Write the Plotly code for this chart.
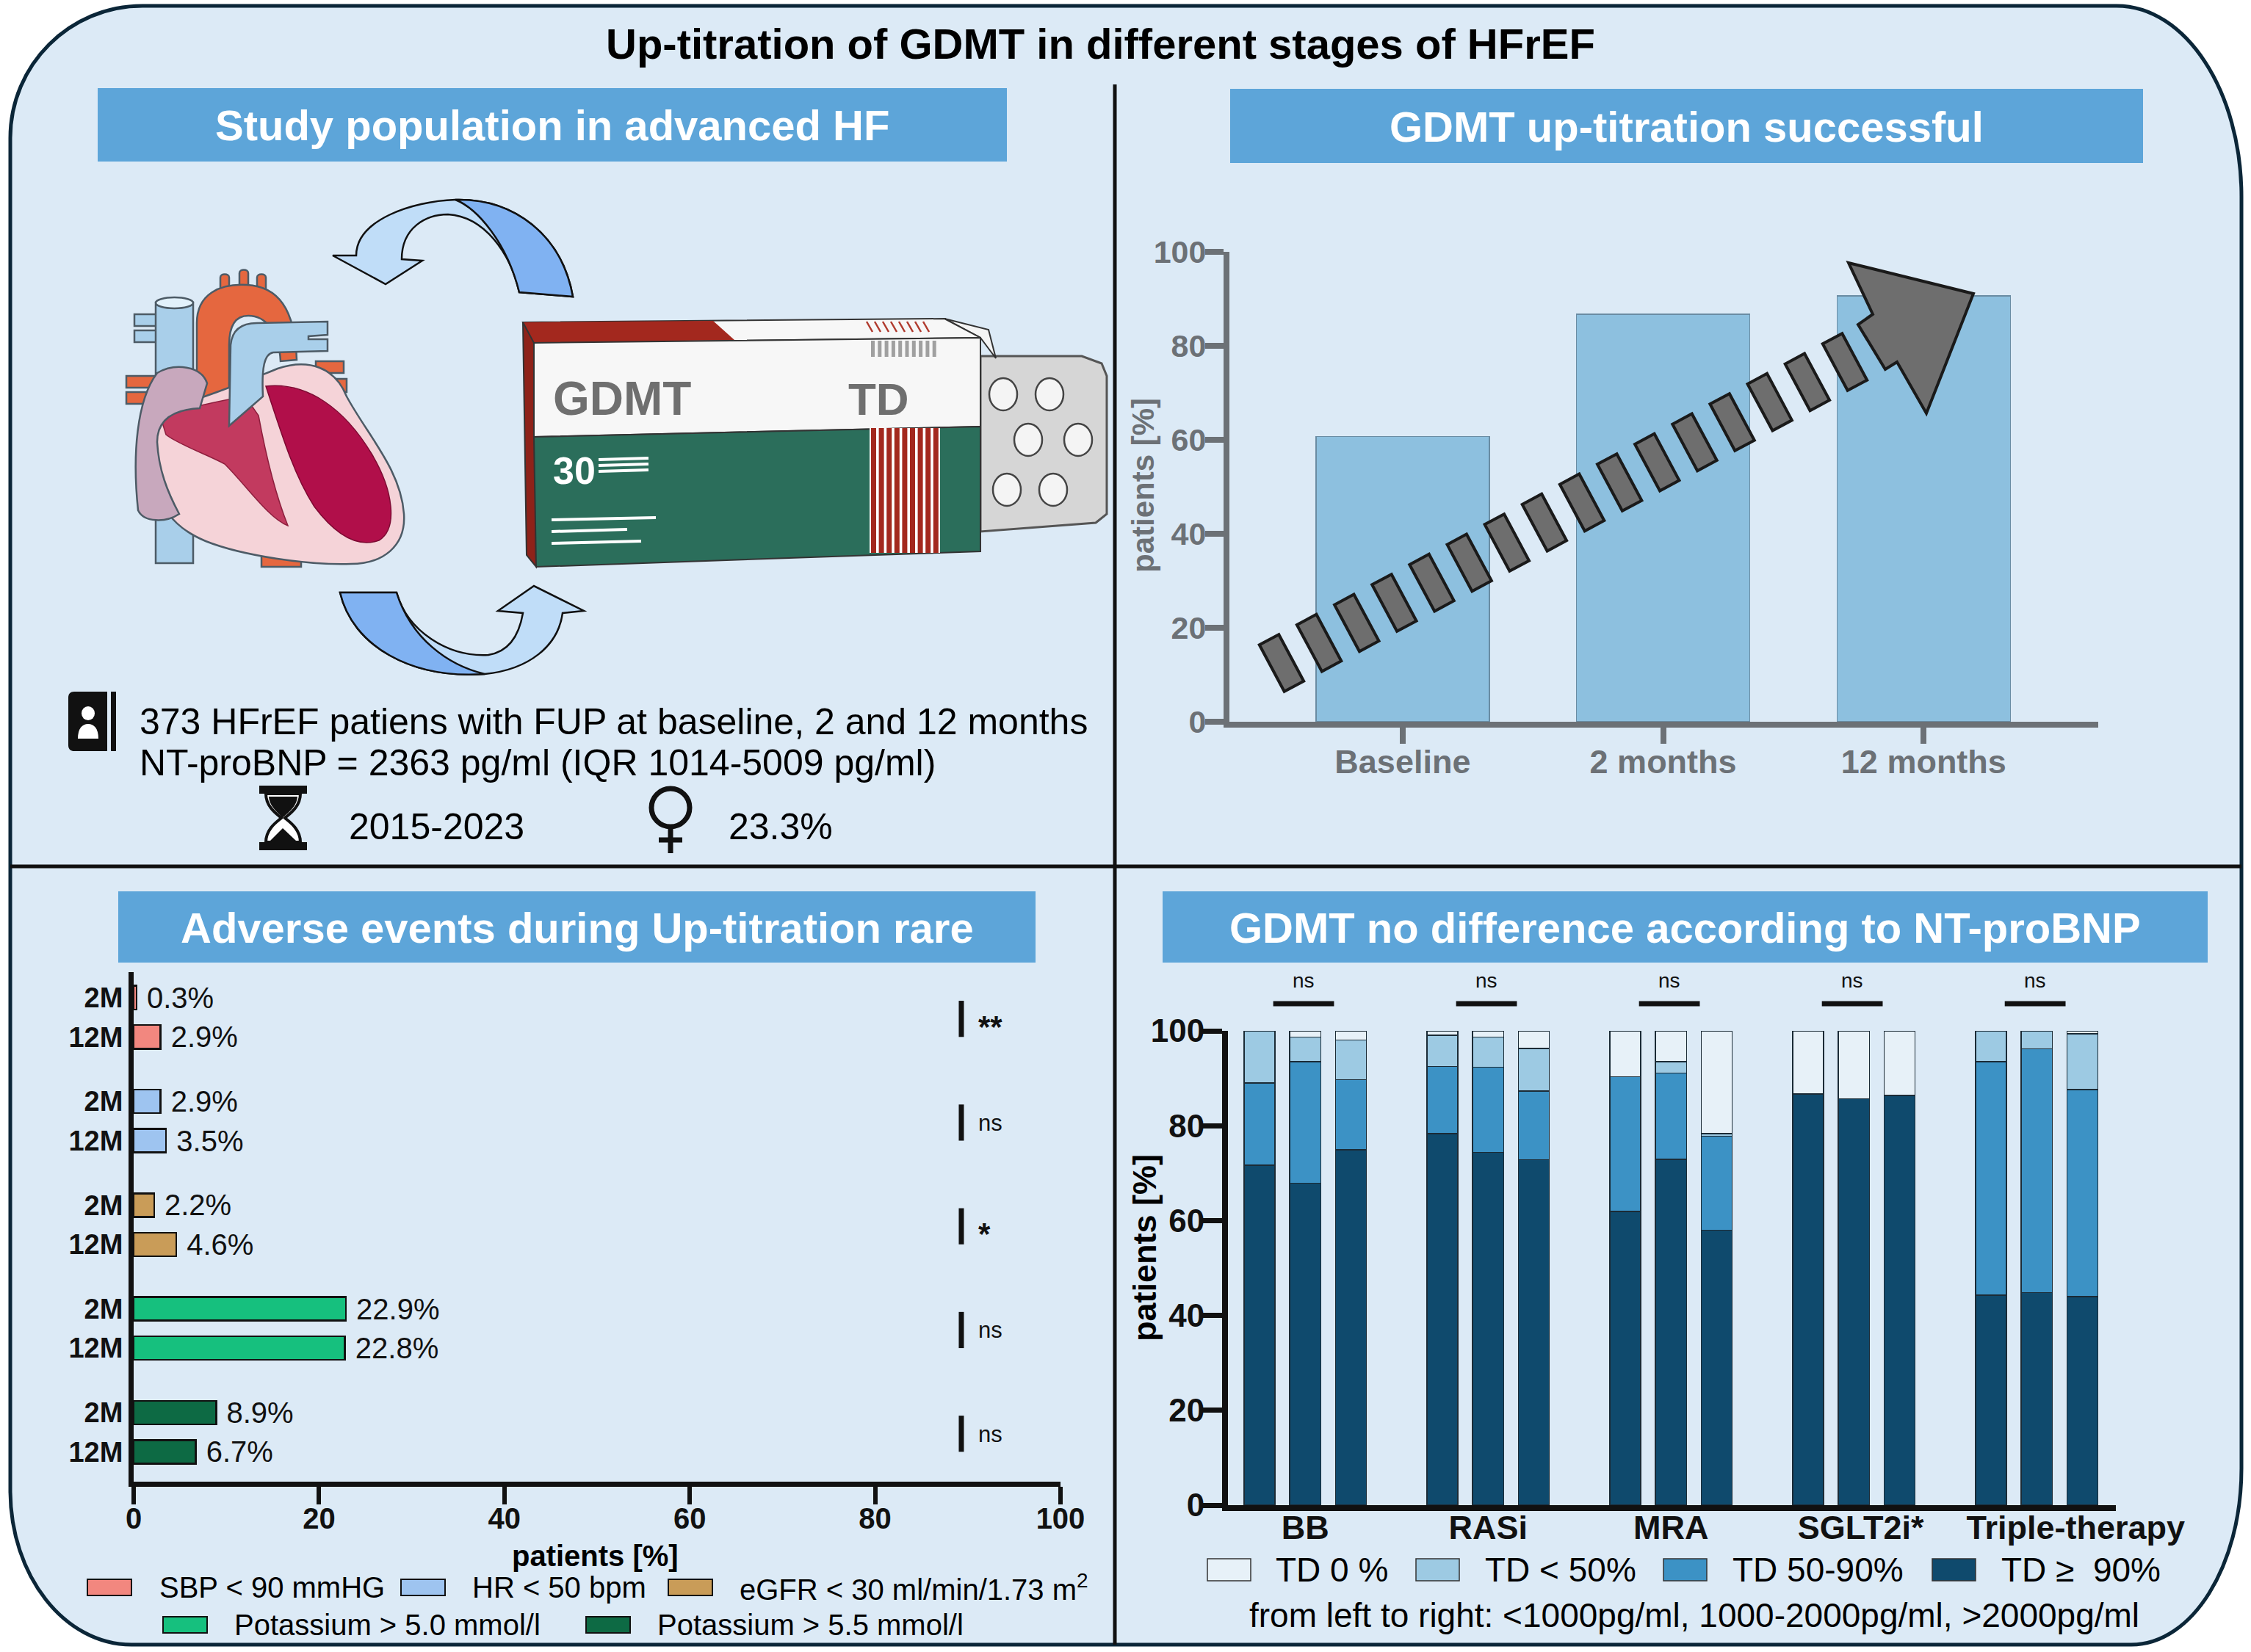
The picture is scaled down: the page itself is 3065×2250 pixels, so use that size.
import re

import plotly.graph_objects as go

W, H = 3065, 2250
FONT = "Liberation Sans, Arial, sans-serif"

# --- top right: GDMT up-titration successful ---
success_labels = ["Baseline", "2 months", "12 months"]
success_values = [60.7, 86.7, 90.6]

# --- bottom left: adverse events during up-titration ---
ae_names = [
    "SBP &lt; 90 mmHG",
    "HR &lt; 50 bpm",
    "eGFR &lt; 30 ml/min/1.73 m<sup>2</sup>",
    "Potassium &gt; 5.0 mmol/l",
    "Potassium &gt; 5.5 mmol/l",
]
ae_colors = ["#F2877F", "#9EC4F0", "#C99C58", "#16C07E", "#0D6A44"]
ae_rows = ["2M", "12M"]
ae_2m = [0.3, 2.9, 2.2, 22.9, 8.9]
ae_12m = [2.9, 3.5, 4.6, 22.8, 6.7]
ae_sig = ["**", "ns", "*", "ns", "ns"]

# --- bottom right: target dose by NT-proBNP group (<1000, 1000-2000, >2000) ---
drug_classes = ["BB", "RASi", "MRA", "SGLT2i*", "Triple-therapy"]
td_levels = ["TD 0 %", "TD &lt; 50%", "TD 50-90%", "TD ≥  90%"]
td_colors = ["#E7F1F8", "#9DCAE3", "#3C92C5", "#0F4A6D"]
td_0 = [[0, 1.3, 1.9], [0.9, 1.3, 3.7], [9.7, 6.5, 21.7], [13.3, 14.3, 13.6], [0, 0, 0.6]]
td_lt50 = [[11.0, 5.2, 8.4], [6.6, 6.4, 9.0], [0, 2.4, 0.5], [0, 0, 0], [6.5, 3.8, 11.8]]
td_50_90 = [[17.3, 25.6, 14.8], [14.2, 17.9, 14.5], [28.4, 18.2, 19.8], [0, 0, 0], [49.2, 51.4, 43.6]]
td_ge90 = [[71.7, 67.9, 74.9], [78.3, 74.4, 72.8], [61.9, 72.9, 58.0], [86.7, 85.7, 86.4], [44.3, 44.8, 44.0]]
td_sig = ["ns", "ns", "ns", "ns", "ns"]

fig = go.Figure()


def to_paper(d):
    return re.sub(
        r"(-?[\d.]+),(-?[\d.]+)",
        lambda m: f"{float(m.group(1)) / W:.5f},{1 - float(m.group(2)) / H:.5f}",
        d,
    )


def add_path(d, fill, line_color="rgba(0,0,0,0)", line_width=0, layer="above"):
    fig.add_shape(
        type="path", path=to_paper(d), xref="paper", yref="paper",
        fillcolor=fill, line=dict(color=line_color, width=line_width), layer=layer,
    )


def add_rect(x0, y0, x1, y1, fill, line_color="rgba(0,0,0,0)", line_width=0, layer="above"):
    fig.add_shape(
        type="rect", xref="paper", yref="paper",
        x0=x0 / W, x1=x1 / W, y0=1 - y1 / H, y1=1 - y0 / H,
        fillcolor=fill, line=dict(color=line_color, width=line_width), layer=layer,
    )


def add_ellipse(x0, y0, x1, y1, fill, line_color="rgba(0,0,0,0)", line_width=0):
    fig.add_shape(
        type="circle", xref="paper", yref="paper",
        x0=x0 / W, x1=x1 / W, y0=1 - y1 / H, y1=1 - y0 / H,
        fillcolor=fill, line=dict(color=line_color, width=line_width),
    )


def add_line(x0, y0, x1, y1, color="#111111", width=5, layer="above"):
    fig.add_shape(
        type="line", xref="paper", yref="paper",
        x0=x0 / W, x1=x1 / W, y0=1 - y0 / H, y1=1 - y1 / H,
        line=dict(color=color, width=width), layer=layer,
    )


def add_text(x, y, text, size, color="#000000", bold=False, xanchor="center", angle=0):
    fig.add_annotation(
        x=x / W, y=1 - y / H, xref="paper", yref="paper", text=text, showarrow=False,
        xanchor=xanchor, yanchor="middle", textangle=angle,
        font=dict(family=FONT, size=size, color=color, weight="bold" if bold else "normal"),
    )


# ---------------- background panel ----------------
k = 0.5523
L, T, R, B = 14, 8, 3052, 2240
outline = (
    f"M {L},{T + 180} C {L},{T + 180 - k * 180} {L + 180 - k * 180},{T} {L + 180},{T} "
    f"L {R - 170},{T} C {R - 170 + k * 170},{T} {R},{T + 260 - k * 260} {R},{T + 260} "
    f"L {R},{B - 240} C {R},{B - 240 + k * 240} {R - 150 + k * 150},{B} {R - 150},{B} "
    f"L {L + 165},{B} C {L + 165 - k * 165},{B} {L},{B - 210 + k * 210} {L},{B - 210} Z"
)
add_path(outline, "#DCEAF6", "#0B2638", 5, layer="below")
add_line(1518, 115, 1518, B, width=5, layer="below")
add_line(L, 1180, R, 1180, width=5, layer="below")

add_text(1498, 60, "Up-titration of GDMT in different stages of HFrEF", 58, bold=True)

# section headers
HEADER = "#5DA5D9"
for (x0, y0, x1, y1), label in [
    ((133, 120, 1371, 220), "Study population in advanced HF"),
    ((1675, 121, 2918, 222), "GDMT up-titration successful"),
    ((161, 1214, 1410, 1311), "Adverse events during Up-titration rare"),
    ((1583, 1214, 3006, 1311), "GDMT no difference according to NT-proBNP"),
]:
    add_rect(x0, y0, x1, y1, HEADER)
    add_text((x0 + x1) / 2, (y0 + y1) / 2 + 1, label, 58, color="#FFFFFF", bold=True)

# ---------------- illustration: heart ----------------
EDGE = "#4D5B66"
BLUE_V = "#A9CFEA"
ORANGE = "#E5673F"
add_rect(356, 748, 410, 772, ORANGE, EDGE, 2.5)
add_rect(172, 512, 212, 528, ORANGE, EDGE, 2.5)
add_rect(172, 534, 212, 550, ORANGE, EDGE, 2.5)
add_rect(430, 492, 468, 508, ORANGE, EDGE, 2.5)
add_rect(436, 516, 472, 534, ORANGE, EDGE, 2.5)
add_rect(183, 428, 215, 444, BLUE_V, EDGE, 2.5)
add_rect(183, 450, 215, 466, BLUE_V, EDGE, 2.5)
add_path("M 212,412 L 263,412 L 263,767 L 212,767 Z", BLUE_V, EDGE, 2.5)
add_ellipse(212, 405, 263, 420, "#E2F1FB", EDGE, 2.5)
for bx, by in [(300, 372), (326, 366), (350, 372)]:
    add_path(f"M {bx},{by + 28} L {bx},{by + 6} C {bx},{by} {bx + 12},{by} {bx + 12},{by + 6} "
             f"L {bx + 12},{by + 28} Z", ORANGE, EDGE, 2.5)
add_path("M 268,578 L 268,440 C 268,400 300,386 336,388 C 378,390 402,420 404,490 "
         "L 382,492 C 380,452 362,430 338,430 C 318,430 312,448 312,470 L 312,578 Z",
         ORANGE, EDGE, 2.5)
add_path("M 210,562 C 260,548 330,522 378,502 C 420,488 456,500 472,540 "
         "C 500,592 546,640 550,700 C 553,745 520,768 478,768 C 420,770 330,757 280,737 "
         "C 235,718 214,690 212,640 Z", "#F5D3D8", EDGE, 2.5)
add_path("M 218,566 C 256,556 296,546 334,540 L 352,566 C 362,620 376,676 392,716 "
         "C 366,706 336,662 306,632 C 280,618 244,606 226,592 Z", "#C23A5F", "#8E1F3E", 1.5)
add_path("M 362,526 C 420,520 470,558 506,618 C 536,668 542,720 516,736 "
         "C 482,748 452,722 428,690 C 402,650 386,600 362,526 Z", "#B10F4A", "#7E0A33", 1.5)
add_path("M 312,580 L 314,470 C 316,448 330,440 350,440 L 446,438 L 446,456 L 420,458 "
         "L 420,462 L 446,462 L 446,478 L 372,480 C 360,482 356,500 358,540 Z",
         BLUE_V, EDGE, 2.5)
add_path("M 188,695 C 180,620 186,545 214,508 C 238,494 274,498 282,522 L 272,556 "
         "C 236,558 214,572 214,602 C 216,640 228,670 244,700 C 226,712 196,712 188,695 Z",
         "#C8A8BD", EDGE, 2.5)

# cycle arrows
add_path("M 780,404 C 765,320 700,270 620,272 C 560,274 485,300 485,348 L 453,348 "
         "L 525,387 L 575,355 L 547,353 C 547,310 580,292 610,292 C 660,295 695,345 707,398 Z",
         "#C0DDF8", "#111111", 2.5)
add_path("M 780,404 C 765,320 700,270 620,272 C 650,284 690,330 707,398 Z",
         "#80B2F2", "#111111", 2.5)
add_path("M 463,807 C 480,880 560,925 660,918 C 720,912 760,880 766,835 L 795,832 "
         "L 727,798 L 678,832 L 712,835 C 706,870 690,888 665,892 C 610,895 555,860 540,807 Z",
         "#C0DDF8", "#111111", 2.5)
add_path("M 463,807 C 480,880 560,925 660,918 C 610,906 560,870 540,807 Z",
         "#80B2F2", "#111111", 2.5)

# ---------------- illustration: drug box ----------------
add_path("M 1335,485 L 1473,485 L 1500,495 L 1507,512 L 1507,700 L 1492,712 L 1335,724 Z",
         "#D6D6D6", "#555555", 3)
for cx, cy in [(1366, 537), (1429, 537), (1400, 599), (1468, 599), (1371, 667), (1434, 667)]:
    add_ellipse(cx - 19, cy - 22, cx + 19, cy + 22, "#F4F4F4", "#444444", 2.5)
add_path("M 1286,434 L 1346,449 L 1356,488 L 1335,460 Z", "#F4F4F4", "#333333", 2)
add_path("M 712,439 L 1286,434 L 1335,460 L 727,467 Z", "#F7F7F7", "#333333", 2)
add_path("M 712,439 L 971,437 L 1000,463 L 727,467 Z", "#A3281E")
for i in range(8):
    add_line(1180 + i * 11, 438, 1188 + i * 11, 452, color="#B03A2E", width=2.5)
add_path("M 712,439 L 727,467 L 730,772 L 717,756 Z", "#8E2219", "#333333", 2)
add_path("M 727,467 L 1335,460 L 1335,581 L 727,595 Z", "#F7F7F7", "#333333", 2)
add_path("M 727,595 L 1335,581 L 1335,751 L 730,772 Z", "#2B6E5B", "#333333", 2)
add_rect(1184, 583, 1280, 753, "#FFFFFF")
for i in range(9):
    add_rect(1186 + i * 10.6, 583, 1193 + i * 10.6, 753, "#A3281E")
for i in range(10):
    add_rect(1186 + i * 9.3, 464, 1191 + i * 9.3, 486, "#A0A0A0")
add_text(751, 543, "GDMT", 64, color="#6F6F6F", bold=True, xanchor="left")
add_text(1196, 543, "TD", 62, color="#6F6F6F", bold=True)
add_text(751, 641, "30", 52, color="#FFFFFF", bold=True, xanchor="left")
for y in (626, 634, 642):
    add_line(815, y, 883, y - 2, color="#FFFFFF", width=4)
for x1, y in ((893, 705), (854, 721), (873, 737)):
    add_line(751, y + 3, x1, y, color="#FFFFFF", width=4)

# ---------------- study population text ----------------
add_path("M 93,950 C 93,945 96,942 101,942 L 146,942 L 146,1023 L 101,1023 "
         "C 96,1023 93,1020 93,1015 Z", "#111111")
add_rect(151, 942, 158, 1023, "#111111")
add_ellipse(111, 962, 129, 981, "#FFFFFF")
add_path("M 106,1006 C 106,992 112,986 120,986 C 128,986 134,992 134,1006 Z", "#FFFFFF")
add_text(188, 983, "373 HFrEF patiens with FUP at baseline, 2 and 12 months", 50, xanchor="left")
add_text(188, 1039, "NT-proBNP = 2363 pg/ml (IQR 1014-5009 pg/ml)", 50, xanchor="left")

add_rect(353, 1070, 418, 1081, "#111111")
add_rect(353, 1147, 418, 1158, "#111111")
add_path("M 362,1081 L 409,1081 C 409,1100 392,1110 388,1114 C 392,1118 409,1128 409,1147 "
         "L 362,1147 C 362,1128 379,1118 383,1114 C 379,1110 362,1100 362,1081 Z",
         "#FFFFFF", "#111111", 4)
add_path("M 366,1085 L 405,1085 C 404,1100 390,1108 385,1114 C 381,1108 367,1100 366,1085 Z",
         "#111111")
add_path("M 385,1128 L 403,1145 L 368,1145 Z", "#111111")
add_text(473, 1126, "2015-2023", 50, xanchor="left")

add_ellipse(887, 1074, 939, 1126, "rgba(0,0,0,0)", "#111111", 7)
add_line(913, 1126, 913, 1162, width=7)
add_line(897, 1144, 929, 1144, width=7)
add_text(990, 1126, "23.3%", 50, xanchor="left")

# ---------------- top right chart ----------------
GRAY = "#6C7176"
fig.add_trace(go.Bar(
    x=success_labels, y=success_values, width=0.665,
    marker=dict(color="#8DC0DF", line=dict(color="#6A8CA3", width=1.5)),
    xaxis="x", yaxis="y", showlegend=False, hoverinfo="x+y",
))

# dashed rising arrow drawn over the bars
sx, sy, ex, ey, n_dash = 1745, 903, 2512, 493, 16
length = ((ex - sx) ** 2 + (ey - sy) ** 2) ** 0.5
ux, uy = (ex - sx) / length, (ey - sy) / length
vx, vy = -uy, ux
a, b = 15, 36
for i in range(n_dash):
    cx = sx + (ex - sx) * i / (n_dash - 1)
    cy = sy + (ey - sy) * i / (n_dash - 1)
    pts = [(cx - a * ux - b * vx, cy - a * uy - b * vy), (cx + a * ux - b * vx, cy + a * uy - b * vy),
           (cx + a * ux + b * vx, cy + a * uy + b * vy), (cx - a * ux + b * vx, cy - a * uy + b * vy)]
    add_path("M " + " L ".join(f"{px:.1f},{py:.1f}" for px, py in pts) + " Z",
             "#6E6E6E", "#1A1A1A", 4)
add_path("M 2517,358 L 2687,400 L 2623,563 L 2583,493 L 2567,503 L 2530,442 L 2550,428 Z",
         "#6E6E6E", "#1A1A1A", 4)

add_text(1556, 661, "patients [%]", 42, color=GRAY, bold=True, angle=-90)

# ---------------- bottom left chart ----------------
G = 2.64
for g, name in enumerate(ae_names):
    vals = [ae_2m[g], ae_12m[g]]
    fig.add_trace(go.Bar(
        x=vals, y=[g * G, g * G + 1], orientation="h", width=0.6,
        marker=dict(color=ae_colors[g], line=dict(color="#111111", width=2.5)),
        text=[f"&nbsp;{v:.1f}%" for v in vals], textposition="outside", cliponaxis=False,
        constraintext="none", textfont=dict(family=FONT, size=40, color="#111111"),
        xaxis="x2", yaxis="y2", showlegend=False, name=name,
    ))
    fig.add_shape(type="line", xref="x2", yref="y2", x0=89.3, x1=89.3,
                  y0=g * G + 0.08, y1=g * G + 1.0, line=dict(color="#111111", width=7))
    star = ae_sig[g] != "ns"
    fig.add_annotation(
        x=91, y=g * G + 0.55, xref="x2", yref="y2", text=ae_sig[g], showarrow=False,
        xanchor="left", yanchor="middle", yshift=-10 if star else 0,
        font=dict(family=FONT, size=42 if star else 31, color="#111111",
                  weight="bold" if star else "normal"),
    )

add_text(810, 2119, "patients [%]", 40, bold=True)

bl_legend = [(119, 2162, 215), (546, 2162, 641), (910, 2162, 1005), (222, 2213, 317), (798, 2213, 893)]
for (x0, yc, tx), name, color in zip(bl_legend, ae_names, ae_colors):
    add_rect(x0, yc - 11, x0 + 60, yc + 11, color, "#111111", 2)
    add_text(tx, yc, name, 40, xanchor="left")

# ---------------- bottom right chart ----------------
xs = [g * 4 + j for g in range(len(drug_classes)) for j in range(3)]
for level, color, data in [
    (td_levels[3], td_colors[3], td_ge90),
    (td_levels[2], td_colors[2], td_50_90),
    (td_levels[1], td_colors[1], td_lt50),
    (td_levels[0], td_colors[0], td_0),
]:
    fig.add_trace(go.Bar(
        x=xs, y=[v for row in data for v in row], width=0.68, name=level,
        marker=dict(color=color, line=dict(color="#1B2B36", width=1.5)),
        xaxis="x3", yaxis="y3", showlegend=False,
    ))

for g, sig in enumerate(td_sig):
    fig.add_shape(type="line", xref="x3", yref="paper", x0=g * 4 + 0.3, x1=g * 4 + 1.63,
                  y0=1 - 1367 / H, y1=1 - 1367 / H, line=dict(color="#111111", width=7))
    fig.add_annotation(x=g * 4 + 0.97, y=1 - 1335 / H, xref="x3", yref="paper", text=sig,
                       showarrow=False, font=dict(family=FONT, size=28, color="#111111"))

add_text(1558, 1700, "patients [%]", 45, bold=True, angle=-90)

br_legend = [(1644, 1735), (1928, 2020), (2265, 2357), (2631, 2723)]
for (x0, tx), name, color in zip(br_legend, td_levels, td_colors):
    add_rect(x0, 2123, x0 + 59, 2153, color, "#333333", 1.5)
    add_text(tx, 2138, name, 46, xanchor="left")
add_text(2307, 2200, "from left to right: &lt;1000pg/ml, 1000-2000pg/ml, &gt;2000pg/ml", 46)

# category labels: the last two are nudged right so the long names do not collide
label_nudge = [0, 0, 0, 0.15, 0.85]

# ---------------- axes ----------------
axis_common = dict(showgrid=False, zeroline=False, automargin=False)
fig.update_layout(
    autosize=True, margin=dict(l=0, r=0, t=0, b=0, pad=0),
    paper_bgcolor="#FFFFFF", plot_bgcolor="rgba(0,0,0,0)",
    barmode="stack", showlegend=False, font=dict(family=FONT),
    xaxis=dict(
        domain=[1674 / W, 2857 / W], range=[-0.665, 2.67], anchor="y",
        showline=True, linecolor=GRAY, linewidth=8, ticks="outside", ticklen=22,
        tickwidth=8, tickcolor=GRAY, ticklabelstandoff=-14,
        tickfont=dict(family=FONT, size=45, color=GRAY, weight="bold"), **axis_common,
    ),
    yaxis=dict(
        domain=[1 - 983 / H, 1 - 343 / H], range=[0, 100], anchor="x",
        tickvals=[0, 20, 40, 60, 80, 100], showline=True, linecolor=GRAY, linewidth=8,
        ticks="outside", ticklen=25, tickwidth=8, tickcolor=GRAY, ticklabelstandoff=-10,
        tickfont=dict(family=FONT, size=43, color=GRAY, weight="bold"), **axis_common,
    ),
    xaxis2=dict(
        domain=[182 / W, 1444 / W], range=[0, 100], anchor="y2",
        tickvals=[0, 20, 40, 60, 80, 100], showline=True, linecolor="#111111", linewidth=7,
        ticks="outside", ticklen=24, tickwidth=6, tickcolor="#111111", ticklabelstandoff=-15,
        tickfont=dict(family=FONT, size=40, color="#111111", weight="bold"), **axis_common,
    ),
    yaxis2=dict(
        domain=[1 - 2018 / H, 1 - 1324 / H], range=[12.32, -0.65], anchor="x2",
        tickvals=[g * G + j for g in range(len(ae_names)) for j in range(2)],
        ticktext=ae_rows * len(ae_names), showline=True, linecolor="#111111", linewidth=7,
        ticks="", ticklabelstandoff=0,
        tickfont=dict(family=FONT, size=38, color="#111111", weight="bold"), **axis_common,
    ),
    xaxis3=dict(
        domain=[1672 / W, 2881 / W], range=[-0.69, 18.73], anchor="y3",
        tickvals=[g * 4 + 1 + label_nudge[g] for g in range(len(drug_classes))],
        ticktext=drug_classes, showline=True, linecolor="#111111", linewidth=8, ticks="",
        ticklabelstandoff=-16,
        tickfont=dict(family=FONT, size=45, color="#111111", weight="bold"), **axis_common,
    ),
    yaxis3=dict(
        domain=[1 - 2050 / H, 1 - 1404 / H], range=[0, 100], anchor="x3",
        tickvals=[0, 20, 40, 60, 80, 100], showline=True, linecolor="#111111", linewidth=8,
        ticks="outside", ticklen=27, tickwidth=7, tickcolor="#111111", ticklabelstandoff=-12,
        tickfont=dict(family=FONT, size=44, color="#111111", weight="bold"), **axis_common,
    ),
)

fig.write_html(
    "out.html",
    config={"displayModeBar": False, "responsive": True},
    default_width="100vw",
    default_height="100vh",
    post_script=(
        "document.body.style.margin='0px';"
        "document.documentElement.style.overflow='hidden';"
    ),
)
